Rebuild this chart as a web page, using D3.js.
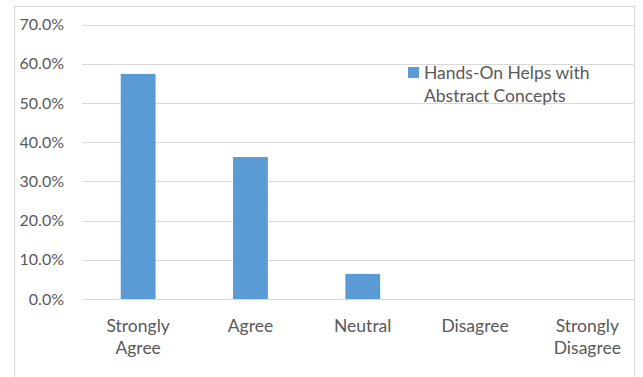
<!DOCTYPE html>
<html lang="en">
<head>
<meta charset="UTF-8">
<title>Hands-On Helps with Abstract Concepts</title>
<script src="https://d3js.org/d3.v7.min.js"></script>
<style>
  body { margin: 0; background: #fff; }
  text { font-family: Lato, "Open Sans", sans-serif; fill: #595959; }
</style>
</head>
<body>
<div id="chart"></div>
<script>
    // data
    var categories = ["Strongly Agree", "Agree", "Neutral", "Disagree", "Strongly Disagree"];
    var values = [0.574, 0.362, 0.064, 0, 0];
    var yTicks = [0, 0.1, 0.2, 0.3, 0.4, 0.5, 0.6, 0.7];
    var seriesName = ["Hands-On Helps with", "Abstract Concepts"];

    var width = 643, height = 377;
    var svg = d3.select("#chart").append("svg")
        .attr("width", width)
        .attr("height", height);

    // chart border (cropped at bottom)
    svg.append("rect")
        .attr("x", 14.5).attr("y", 6.5)
        .attr("width", 620).attr("height", 400)
        .attr("fill", "none")
        .attr("stroke", "#d9d9d9");

    var x = d3.scaleBand()
        .domain(categories)
        .range([82, 643.5])
        .paddingInner(0.69)
        .paddingOuter(0.345);

    var y = d3.scaleLinear()
        .domain([0, 0.7])
        .range([299, 24.5]);

    // gridlines
    svg.append("g")
        .selectAll("line")
        .data(yTicks)
        .join("line")
        .attr("x1", 82).attr("x2", 634)
        .attr("y1", d => Math.round(y(d)) + 0.5)
        .attr("y2", d => Math.round(y(d)) + 0.5)
        .attr("stroke", "#d9d9d9")
        .attr("stroke-width", 1);

    // y labels
    svg.append("g")
        .selectAll("text")
        .data(yTicks)
        .join("text")
        .attr("x", 64)
        .attr("y", d => y(d))
        .attr("dy", "0.35em")
        .attr("text-anchor", "end")
        .style("font-size", "16px")
        .text(d => d3.format(".1%")(d));

    // bars
    svg.append("g")
        .selectAll("rect")
        .data(values)
        .join("rect")
        .attr("x", (d, i) => x(categories[i]))
        .attr("width", x.bandwidth())
        .attr("y", d => y(d))
        .attr("height", d => y(0) - y(d))
        .attr("fill", "#5b9bd5");

    // category labels, split into two lines like the reference
    var catLabels = svg.append("g")
        .selectAll("text")
        .data(categories)
        .join("text")
        .attr("x", d => x(d) + x.bandwidth() / 2)
        .attr("y", 332)
        .attr("text-anchor", "middle")
        .style("font-size", "17.5px");
    catLabels.each(function(d) {
        var words = d.split(" ");
        var t = d3.select(this);
        words.forEach(function(w, i) {
            t.append("tspan")
                .attr("x", t.attr("x"))
                .attr("dy", i == 0 ? 0 : 22)
                .text(w);
        });
    });

    // legend
    var legend = svg.append("g");
    legend.append("rect")
        .attr("x", 408).attr("y", 67)
        .attr("width", 11).attr("height", 11)
        .attr("fill", "#5b9bd5");
    legend.selectAll("text")
        .data(seriesName)
        .join("text")
        .attr("x", 424)
        .attr("y", (d, i) => 79 + i * 23)
        .style("font-size", "17.5px")
        .text(d => d);
</script>
</body>
</html>
